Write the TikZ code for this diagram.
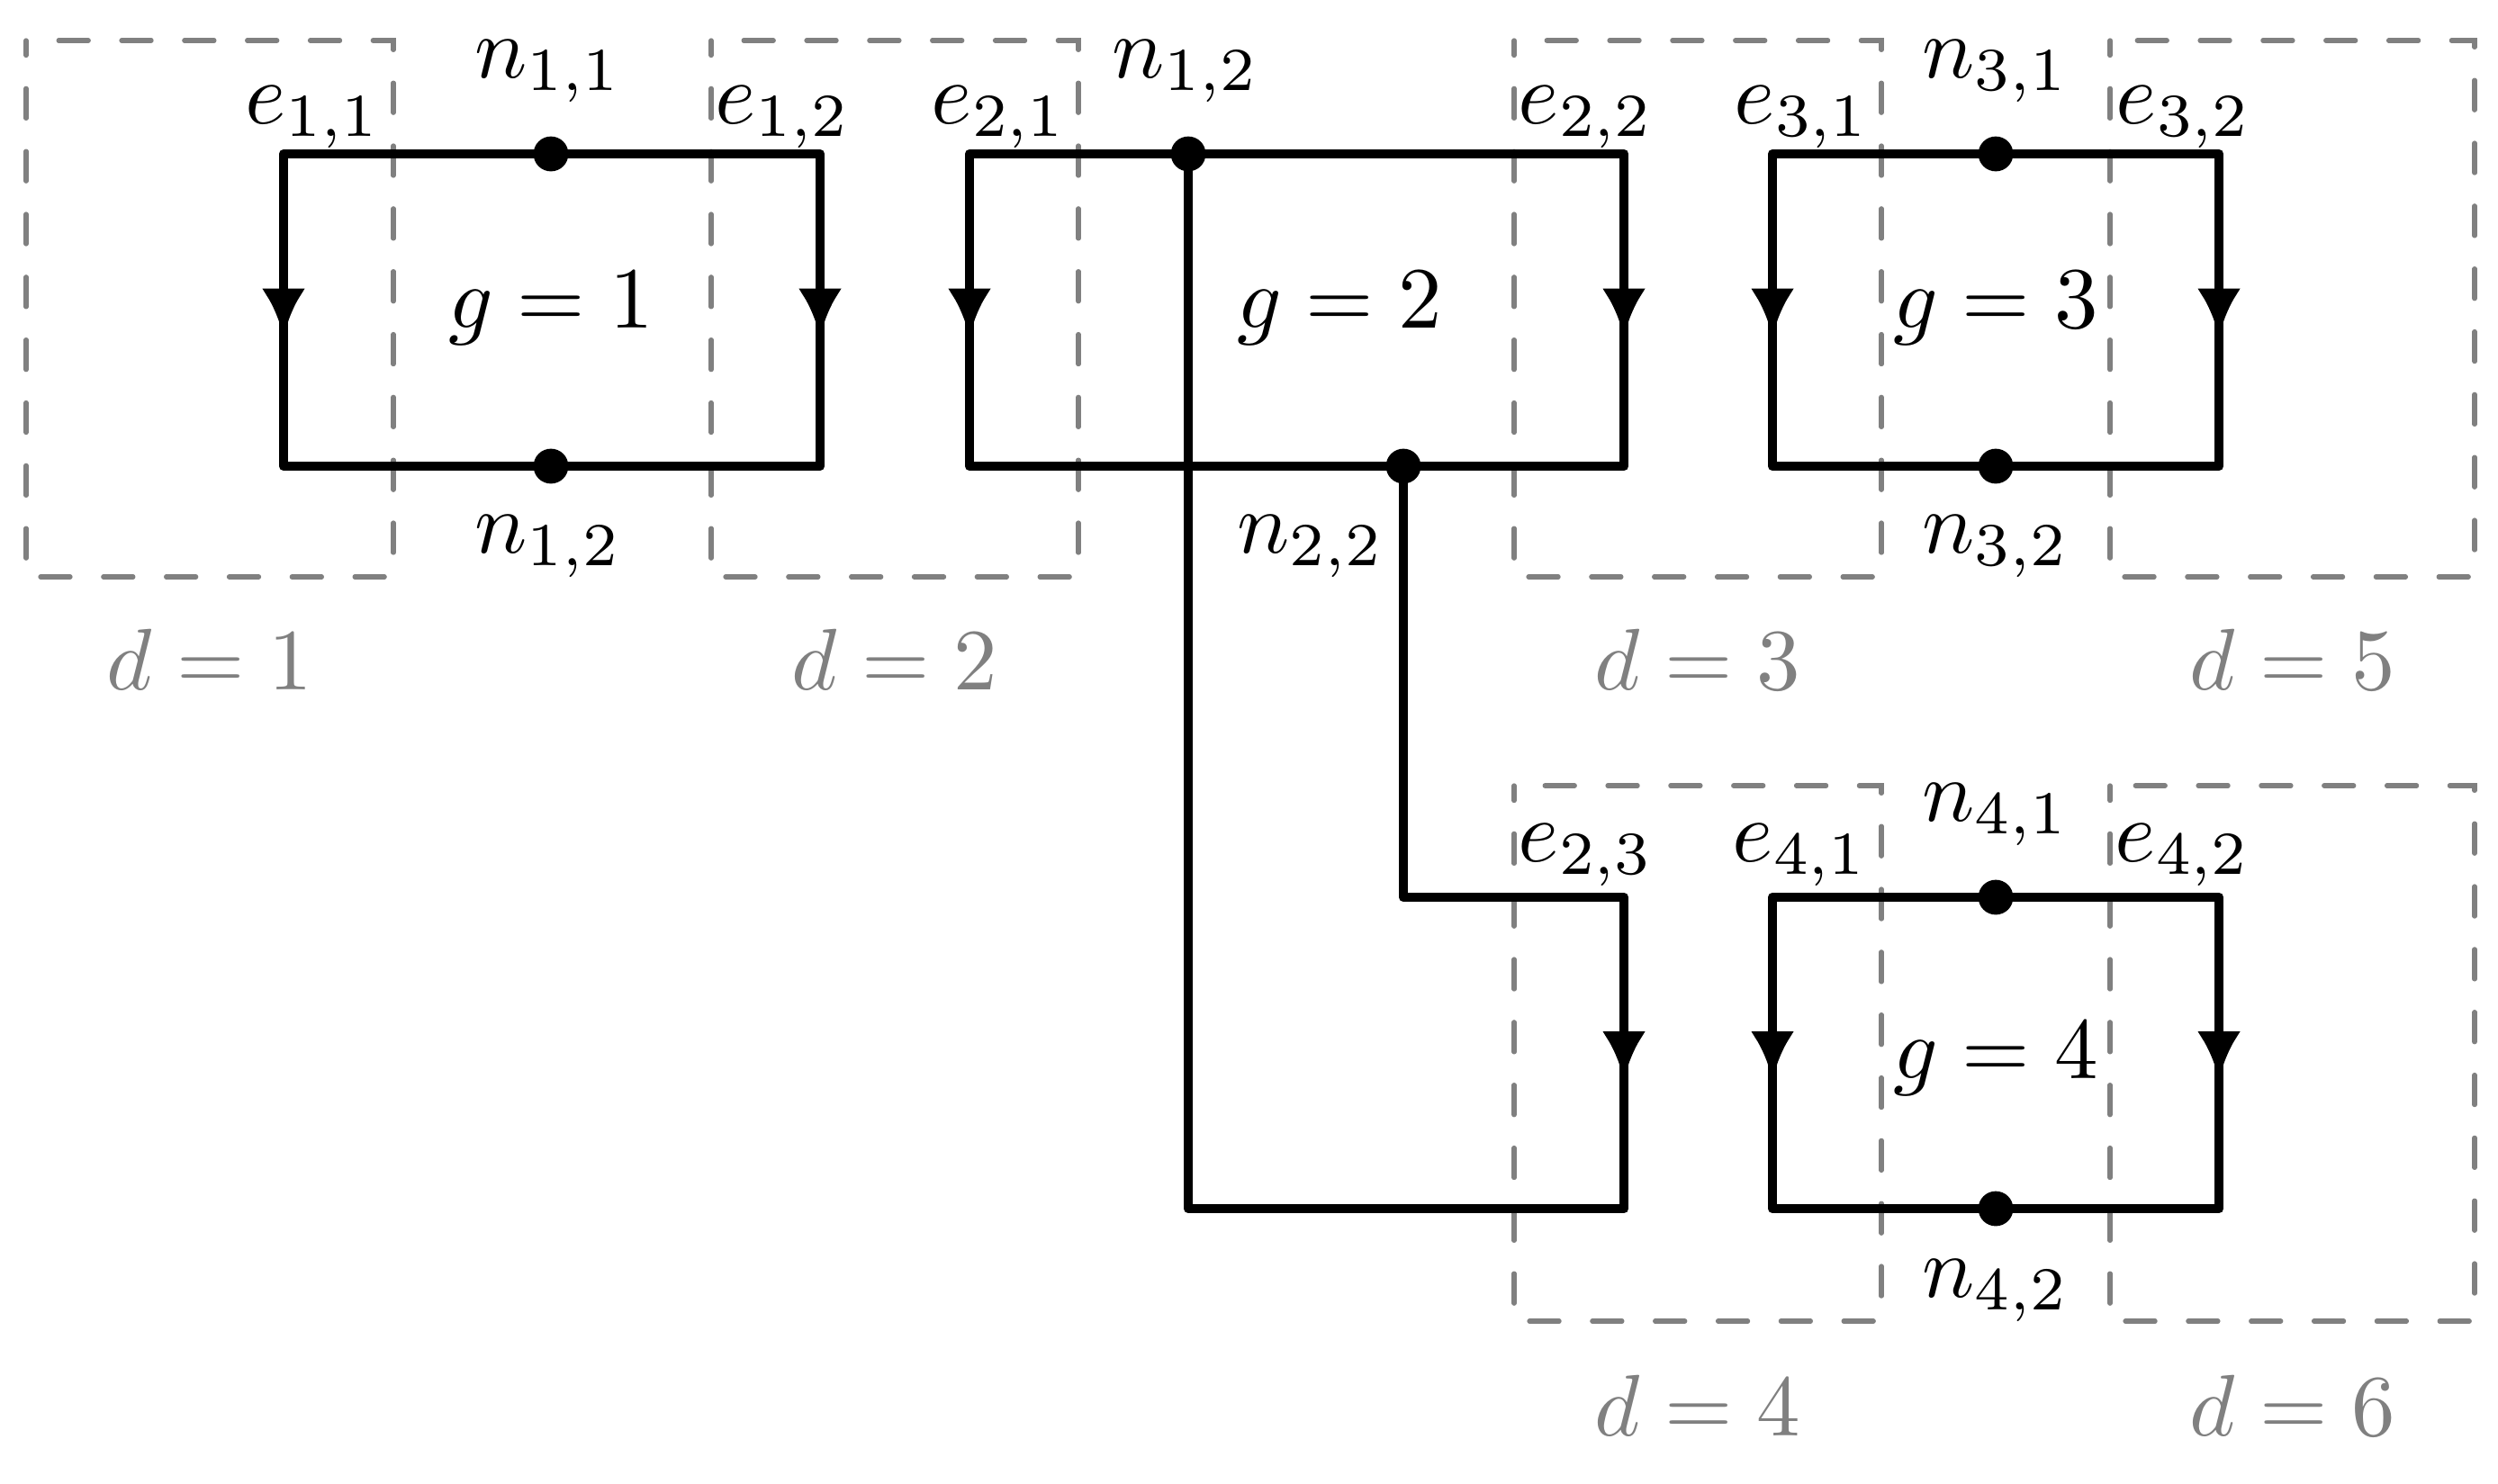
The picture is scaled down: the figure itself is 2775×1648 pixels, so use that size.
\documentclass[tikz,border=0pt]{standalone}
\usetikzlibrary{arrows.meta,decorations.markings}
\begin{document}
\begin{tikzpicture}[x=0.1031pt,y=-0.1031pt,
  box/.style={draw=gray, line width=0.55pt, line cap=round, dash pattern=on 3.4pt off 3.8pt, dash phase=1.7pt},
  wire/.style={draw=black, line width=1.1pt, line join=round, line cap=round},
  arrowmark/.style={postaction={decorate}, decoration={markings, mark=at position 0.585 with {\arrow{Latex[length=5.5pt,width=5pt]}}}},
  dot/.style={circle, fill=black, inner sep=0pt, minimum size=4pt},
  lbl/.style={inner sep=0pt},
  dlbl/.style={text=gray, inner sep=0pt},
]
\useasboundingbox (0,0) rectangle (2775,1648);
% domain boxes
\draw[box] (29,45) rectangle (437,641);
\draw[box] (790,45) rectangle (1198,641);
\draw[box] (1682,45) rectangle (2090,641);
\draw[box] (2344,45) rectangle (2749,641);
\draw[box] (1682,873) rectangle (2090,1468);
\draw[box] (2344,873) rectangle (2749,1468);
\node[dlbl] (d1) at (233,733) {$d=1$};
\node[dlbl] (d2) at (994,733) {$d=2$};
\node[dlbl] (d3) at (1886,733) {$d=3$};
\node[dlbl] (d5) at (2547,733) {$d=5$};
\node[dlbl] (d4) at (1886,1562) {$d=4$};
\node[dlbl] (d6) at (2547,1562) {$d=6$};
% g = 1
\coordinate (a1) at (315,171); \coordinate (b1) at (911,171);
\coordinate (c1) at (911,518); \coordinate (e1) at (315,518);
\draw[wire] (a1) -- (b1) -- (c1) -- (e1) -- cycle;
\path[line width=1.1pt,arrowmark] (a1) -- (e1);
\path[line width=1.1pt,arrowmark] (b1) -- (c1);
\node[dot] (n11) at (612,171) {};
\node[dot] (n12a) at (612,518) {};
\node[lbl] at (612,343) {$g=1$};
\node[lbl] (ln11) at (609,79) {$n_{1,1}$};
\node[lbl] (ln12a) at (609,607) {$n_{1,2}$};
\node[lbl] (le11) at (348,130) {$e_{1,1}$};
\node[lbl] (le12) at (870,130) {$e_{1,2}$};
% g = 2
\coordinate (a2) at (1077,171); \coordinate (b2) at (1804,171);
\coordinate (c2) at (1804,518); \coordinate (e2) at (1077,518);
\draw[wire] (a2) -- (b2) -- (c2) -- (e2) -- cycle;
\path[line width=1.1pt,arrowmark] (a2) -- (e2);
\path[line width=1.1pt,arrowmark] (b2) -- (c2);
\coordinate (p1) at (1320,1343); \coordinate (p2) at (1804,1343);
\coordinate (p3) at (1804,997); \coordinate (p4) at (1559,997);
\node[dot] (n12) at (1320,171) {};
\node[dot] (n22) at (1559,518) {};
\draw[wire] (n12.center) -- (p1) -- (p2) -- (p3) -- (p4) -- (n22.center);
\path[line width=1.1pt,arrowmark] (p3) -- (p2);
\node[lbl] at (1488,343) {$g=2$};
\node[lbl] (ln12) at (1317,79) {$n_{1,2}$};
\node[lbl] (ln22) at (1456,607) {$n_{2,2}$};
\node[lbl] (le21) at (1110,130) {$e_{2,1}$};
\node[lbl] (le22) at (1762,130) {$e_{2,2}$};
\node[lbl] (le23) at (1762,950) {$e_{2,3}$};
% g = 3
\coordinate (a3) at (1969,171); \coordinate (b3) at (2465,171);
\coordinate (c3) at (2465,518); \coordinate (e3) at (1969,518);
\draw[wire] (a3) -- (b3) -- (c3) -- (e3) -- cycle;
\path[line width=1.1pt,arrowmark] (a3) -- (e3);
\path[line width=1.1pt,arrowmark] (b3) -- (c3);
\node[dot] (n31) at (2217,171) {};
\node[dot] (n32) at (2217,518) {};
\node[lbl] at (2217,343) {$g=3$};
\node[lbl] (ln31) at (2217,79) {$n_{3,1}$};
\node[lbl] (ln32) at (2217,607) {$n_{3,2}$};
\node[lbl] (le31) at (2002,130) {$e_{3,1}$};
\node[lbl] (le32) at (2426,130) {$e_{3,2}$};
% g = 4
\coordinate (a4) at (1969,997); \coordinate (b4) at (2465,997);
\coordinate (c4) at (2465,1343); \coordinate (e4) at (1969,1343);
\draw[wire] (a4) -- (b4) -- (c4) -- (e4) -- cycle;
\path[line width=1.1pt,arrowmark] (a4) -- (e4);
\path[line width=1.1pt,arrowmark] (b4) -- (c4);
\node[dot] (n41) at (2217,997) {};
\node[dot] (n42) at (2217,1343) {};
\node[lbl] at (2217,1177) {$g=4$};
\node[lbl] (ln41) at (2217,905) {$n_{4,1}$};
\node[lbl] (ln42) at (2217,1434) {$n_{4,2}$};
\node[lbl] (le41) at (2000,950) {$e_{4,1}$};
\node[lbl] (le42) at (2425,950) {$e_{4,2}$};
\end{tikzpicture}
\end{document}
